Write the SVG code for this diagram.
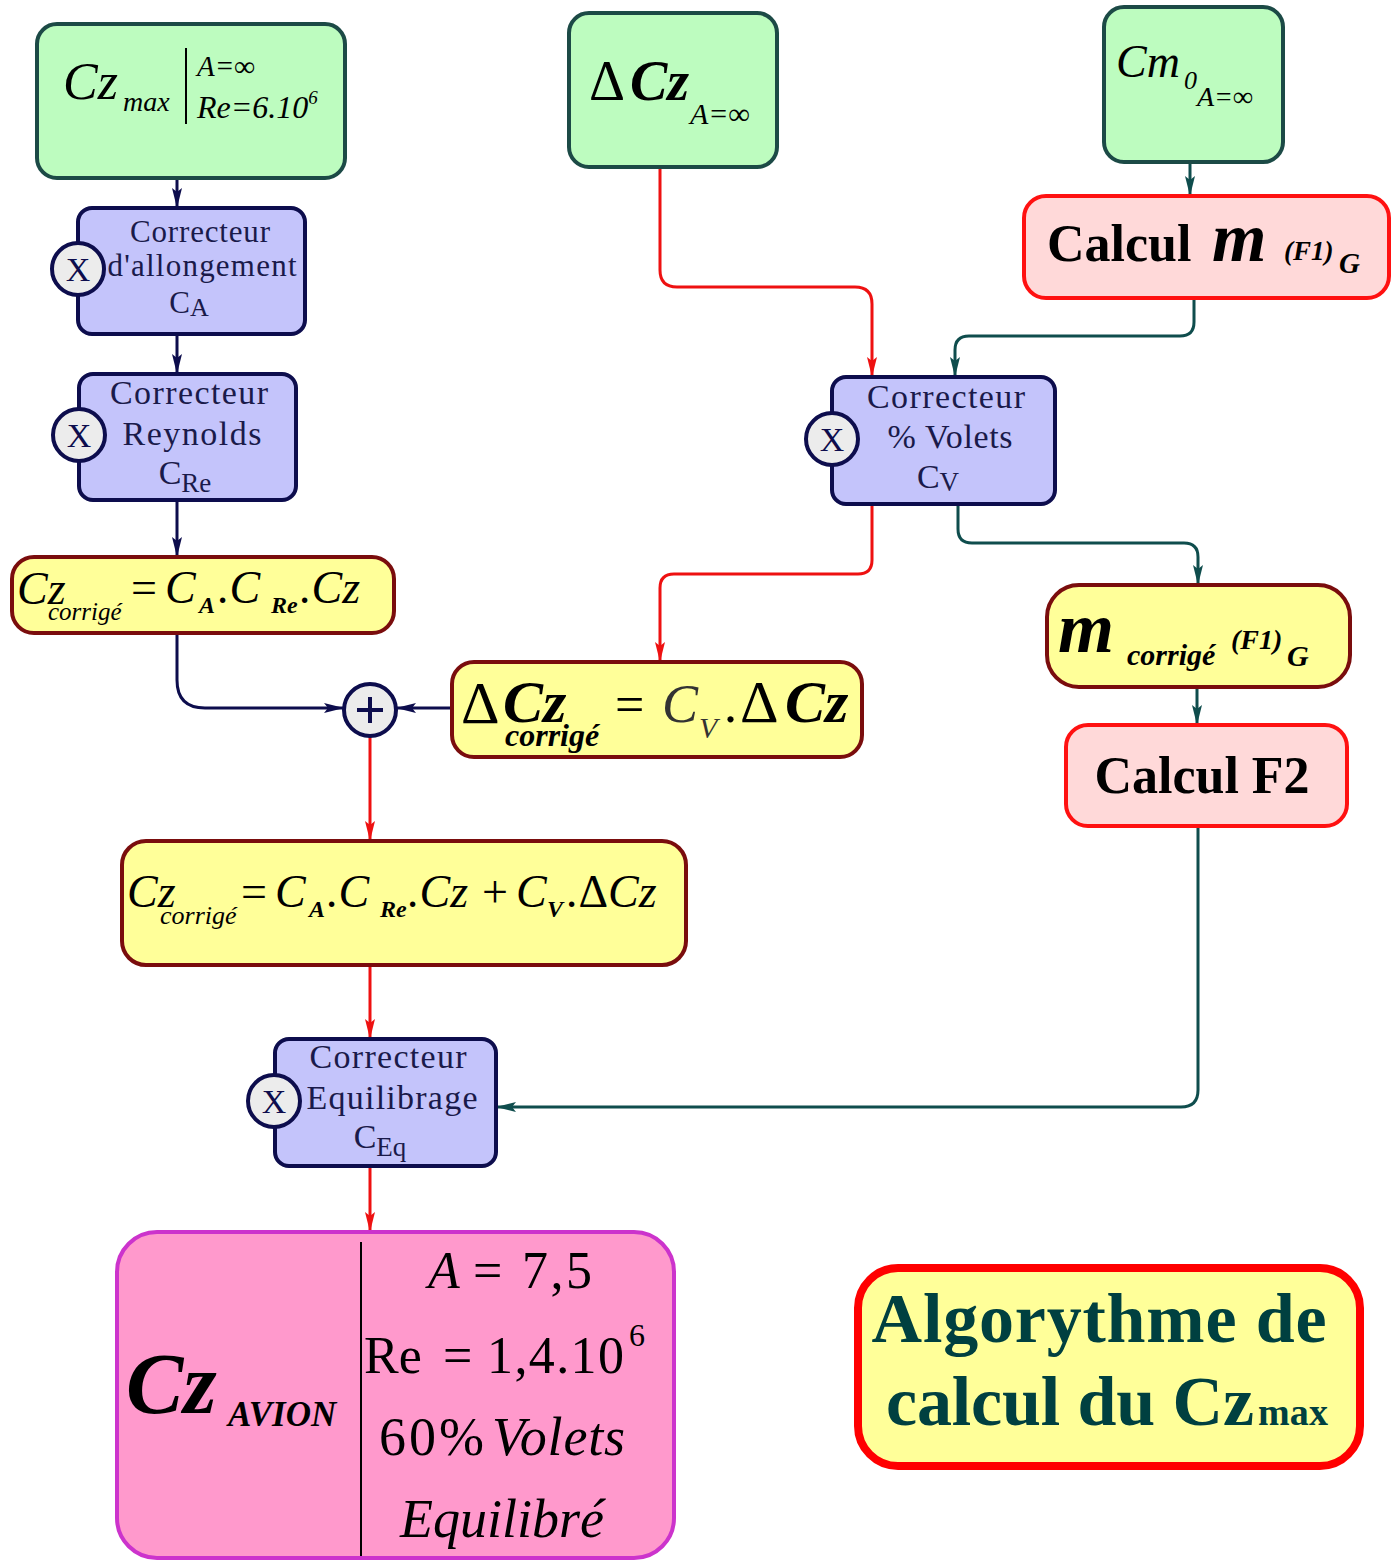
<svg xmlns="http://www.w3.org/2000/svg" width="1399" height="1561" viewBox="0 0 1399 1561">
<defs>
<marker id="aN" markerUnits="userSpaceOnUse" markerWidth="20" markerHeight="12" refX="19" refY="6" orient="auto"><path d="M0,1 L20,6 L0,11 L4,6 z" fill="#0d0d4d"/></marker>
<marker id="aR" markerUnits="userSpaceOnUse" markerWidth="20" markerHeight="12" refX="19" refY="6" orient="auto"><path d="M0,1 L20,6 L0,11 L4,6 z" fill="#ee1111"/></marker>
<marker id="aT" markerUnits="userSpaceOnUse" markerWidth="20" markerHeight="12" refX="19" refY="6" orient="auto"><path d="M0,1 L20,6 L0,11 L4,6 z" fill="#0f4d4d"/></marker>
</defs>
<style>
text{font-family:"Liberation Serif","Times New Roman",serif;fill:#000}
.green{fill:#bdfcbf;stroke:#1c4a46;stroke-width:4}
.blue{fill:#c4c4fb;stroke:#0d0d4d;stroke-width:4}
.yel{fill:#ffff99;stroke:#7a0d0d;stroke-width:4}
.pink{fill:#ffd9d9;stroke:#ff1111;stroke-width:4}
.circ{fill:#ececec;stroke:#0d0d4d;stroke-width:4}
.ct{font-size:34px;fill:#1a1a4a;text-anchor:middle}
.xt{font-size:34px;fill:#0d0d4d;text-anchor:middle}
.i{font-style:italic}
.n{font-style:normal}
.bi{font-style:italic;font-weight:bold}
.b{font-weight:bold}
.cn{fill:none;stroke-width:3}
.nv{stroke:#0d0d4d}
.rd{stroke:#ee1111}
.tl{stroke:#0f4d4d}
</style>
<g id="connectors">
<path class="cn nv" d="M177,178 V207" marker-end="url(#aN)"/>
<path class="cn nv" d="M177,334 V373" marker-end="url(#aN)"/>
<path class="cn nv" d="M177,500 V556" marker-end="url(#aN)"/>
<path class="cn nv" d="M177,633 V680 Q177,708 205,708 H343" marker-end="url(#aN)"/>
<path class="cn nv" d="M452,708 H397" marker-end="url(#aN)"/>
<path class="cn rd" d="M370,736 V840" marker-end="url(#aR)"/>
<path class="cn rd" d="M370,965 V1038" marker-end="url(#aR)"/>
<path class="cn rd" d="M370,1166 V1231" marker-end="url(#aR)"/>
<path class="cn rd" d="M660,167 V270 Q660,287 677,287 H855 Q872,287 872,304 V376" marker-end="url(#aR)"/>
<path class="cn tl" d="M1190,162 V195" marker-end="url(#aT)"/>
<path class="cn tl" d="M1194,298 V322 Q1194,336 1180,336 H969 Q955,336 955,350 V376" marker-end="url(#aT)"/>
<path class="cn rd" d="M872,504 V560 Q872,574 858,574 H674 Q660,574 660,588 V661" marker-end="url(#aR)"/>
<path class="cn tl" d="M958,504 V529 Q958,543 972,543 H1184 Q1198,543 1198,557 V584" marker-end="url(#aT)"/>
<path class="cn tl" d="M1197,687 V724" marker-end="url(#aT)"/>
<path class="cn tl" d="M1198,826 V1090 Q1198,1107 1181,1107 H497" marker-end="url(#aT)"/>
</g>
<g id="czmax">
<rect class="green" x="37" y="24" width="308" height="154" rx="20"/>
<line x1="186" y1="48" x2="186" y2="124" stroke="#000" stroke-width="2"/>
<text class="i"><tspan x="63" y="99" font-size="52">Cz</tspan><tspan x="123" y="111" font-size="28">max</tspan><tspan x="197" y="76" font-size="29">A=∞</tspan><tspan x="197" y="118" font-size="32">Re=6.10</tspan><tspan font-size="19" dy="-14">6</tspan></text>
</g>
<g id="dczinf">
<rect class="green" x="569" y="13" width="208" height="154" rx="20"/>
<text><tspan x="589" y="100" font-size="56">Δ</tspan><tspan class="bi" x="630" y="100" font-size="56">Cz</tspan><tspan class="i" x="690" y="124" font-size="30">A=∞</tspan></text>
</g>
<g id="cm0">
<rect class="green" x="1104" y="7" width="179" height="155" rx="20"/>
<text class="i"><tspan x="1116" y="77" font-size="46">Cm</tspan><tspan x="1184" y="89" font-size="26">0</tspan><tspan x="1197" y="106" font-size="28">A=∞</tspan></text>
</g>
<g id="calculm">
<rect class="pink" x="1024" y="196" width="365" height="102" rx="22"/>
<text class="b"><tspan x="1047" y="261" font-size="52">Calcul</tspan><tspan class="i" x="1212" y="261" font-size="70">m</tspan><tspan class="i" x="1284" y="260" font-size="27">(F1)</tspan><tspan class="i" x="1339" y="273" font-size="29">G</tspan></text>
</g>
<g id="corrA">
<rect class="blue" x="78" y="208" width="227" height="126" rx="14"/>
<text class="ct" x="200" y="242" style="font-size:31px" textLength="140">Correcteur</text>
<text class="ct" x="202" y="276" style="font-size:31px" textLength="189">d'allongement</text>
<text class="ct" x="189" y="313" style="font-size:31px">C<tspan font-size="26" dy="3">A</tspan></text>
<circle class="circ" cx="78" cy="269" r="26"/>
<text class="xt" x="78" y="281">X</text>
</g>
<g id="corrRe">
<rect class="blue" x="79" y="374" width="217" height="126" rx="14"/>
<text class="ct" x="189" y="404" textLength="158">Correcteur</text>
<text class="ct" x="192" y="445" textLength="139">Reynolds</text>
<text class="ct" x="185" y="484">C<tspan font-size="27" dy="8">Re</tspan></text>
<circle class="circ" cx="79" cy="435" r="26"/>
<text class="xt" x="79" y="447">X</text>
</g>
<g id="czcorr1">
<rect class="yel" x="12" y="557" width="382" height="76" rx="22"/>
<text class="i" font-size="46"><tspan x="17" y="604">Cz</tspan><tspan x="48" y="620" font-size="25">corrigé</tspan><tspan class="n" x="131" y="603">=</tspan><tspan x="165" y="603">C</tspan><tspan class="b" x="199" y="613" font-size="24">A</tspan><tspan x="218" y="603">.C</tspan><tspan class="b" x="271" y="613" font-size="24">Re</tspan><tspan x="300" y="603">.Cz</tspan></text>
</g>
<g id="plus">
<circle class="circ" cx="370" cy="710" r="26"/>
<line x1="357" y1="710" x2="383" y2="710" stroke="#0d0d4d" stroke-width="4"/>
<line x1="370" y1="697" x2="370" y2="723" stroke="#0d0d4d" stroke-width="4"/>
</g>
<g id="dczcorr">
<rect class="yel" x="452" y="662" width="410" height="95" rx="22"/>
<text font-size="60"><tspan x="461" y="723">Δ</tspan><tspan class="bi" x="503" y="722">Cz</tspan><tspan class="bi" x="505" y="746" font-size="32">corrigé</tspan><tspan x="615" y="722" font-size="52">=</tspan><tspan class="i" x="662" y="722" font-size="54" fill="#333">C</tspan><tspan class="i" x="699" y="738" font-size="30" fill="#333">V</tspan><tspan x="724" y="722" font-size="52">.</tspan><tspan x="740" y="722">Δ</tspan><tspan class="bi" x="785" y="722">Cz</tspan></text>
</g>
<g id="corrV">
<rect class="blue" x="832" y="377" width="223" height="127" rx="14"/>
<text class="ct" x="946" y="408" textLength="158">Correcteur</text>
<text class="ct" x="950" y="448" textLength="125">%  Volets</text>
<text class="ct" x="938" y="488">C<tspan font-size="27" dy="3">V</tspan></text>
<circle class="circ" cx="832" cy="439" r="26"/>
<text class="xt" x="832" y="451">X</text>
</g>
<g id="mcorr">
<rect class="yel" x="1047" y="585" width="303" height="102" rx="32"/>
<text class="bi"><tspan x="1058" y="652" font-size="72">m</tspan><tspan x="1127" y="665" font-size="30">corrigé</tspan><tspan x="1231" y="649" font-size="28">(F1)</tspan><tspan x="1287" y="666" font-size="30">G</tspan></text>
</g>
<g id="calculF2">
<rect class="pink" x="1066" y="725" width="281" height="101" rx="22"/>
<text class="b" x="1202" y="793" font-size="52" text-anchor="middle">Calcul F2</text>
</g>
<g id="czcorr2">
<rect class="yel" x="122" y="841" width="564" height="124" rx="24"/>
<text class="i" font-size="46"><tspan x="127" y="907">Cz</tspan><tspan x="160" y="924" font-size="26">corrigé</tspan><tspan class="n" x="241" y="907">=</tspan><tspan x="275" y="907">C</tspan><tspan class="b" x="309" y="917" font-size="24">A</tspan><tspan x="327" y="907">.C</tspan><tspan class="b" x="380" y="917" font-size="24">Re</tspan><tspan x="408" y="907">.Cz</tspan><tspan class="n" x="482" y="907">+</tspan><tspan x="516" y="907">C</tspan><tspan class="b" x="547" y="917" font-size="24">V</tspan><tspan x="567" y="907">.</tspan><tspan class="n">Δ</tspan><tspan>Cz</tspan></text>
</g>
<g id="corrEq">
<rect class="blue" x="275" y="1039" width="221" height="127" rx="14"/>
<text class="ct" x="388" y="1068" textLength="157">Correcteur</text>
<text class="ct" x="392" y="1109" textLength="171">Equilibrage</text>
<text class="ct" x="380" y="1148">C<tspan font-size="27" dy="8">Eq</tspan></text>
<circle class="circ" cx="274" cy="1101" r="26"/>
<text class="xt" x="274" y="1113">X</text>
</g>
<g id="czavion">
<rect x="117" y="1232" width="557" height="326" rx="40" fill="#ff99cc" stroke="#cc33cc" stroke-width="4"/>
<line x1="361" y1="1242" x2="361" y2="1556" stroke="#000" stroke-width="2"/>
<text class="bi"><tspan x="126" y="1413" font-size="86">Cz</tspan><tspan x="228" y="1426" font-size="35">AVION</tspan></text>
<text font-size="52"><tspan class="i" x="428" y="1288">A</tspan><tspan x="473" y="1288">=</tspan><tspan x="522" y="1288" textLength="70">7,5</tspan></text>
<text font-size="52"><tspan x="364" y="1373">Re</tspan><tspan x="443" y="1373">=</tspan><tspan x="487" y="1373" textLength="137">1,4.10</tspan><tspan x="629" y="1346" font-size="32">6</tspan></text>
<text font-size="54"><tspan x="379" y="1455" textLength="105">60%</tspan><tspan class="i" x="492" y="1455" textLength="133">Volets</tspan></text>
<text class="i" x="502" y="1537" font-size="54" text-anchor="middle">Equilibré</text>
</g>
<g id="title">
<rect x="858" y="1268" width="502" height="198" rx="40" fill="#ffff99" stroke="#ff0000" stroke-width="8"/>
<text class="b" x="1099" y="1342" font-size="70" text-anchor="middle" textLength="455" style="fill:#004040">Algorythme de</text>
<text class="b" font-size="70" style="fill:#004040"><tspan x="886" y="1425" textLength="368">calcul du Cz</tspan><tspan x="1258" y="1425" font-size="38" textLength="70">max</tspan></text>
</g>
</svg>
